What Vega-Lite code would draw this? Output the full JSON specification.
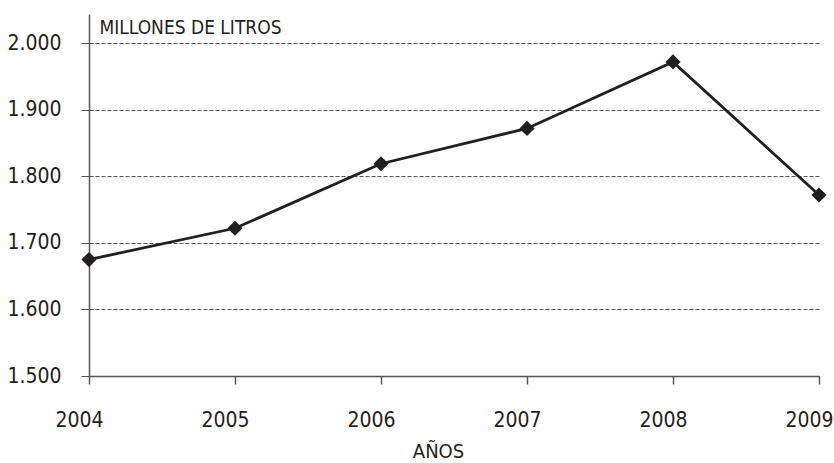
{
  "$schema": "https://vega.github.io/schema/vega-lite/v6.json",
  "width": 730,
  "height": 362,
  "autosize": {"type": "none"},
  "padding": {"left": 89, "top": 14, "right": 15, "bottom": 87},
  "background": "white",
  "config": {
    "view": {"stroke": null},
    "font": "DejaVu Sans Condensed, sans-serif"
  },
  "data": {
    "values": [
      {"year": 2004, "value": 1675},
      {"year": 2005, "value": 1722},
      {"year": 2006, "value": 1819},
      {"year": 2007, "value": 1872},
      {"year": 2008, "value": 1972},
      {"year": 2009, "value": 1772}
    ]
  },
  "encoding": {
    "x": {
      "field": "year",
      "type": "quantitative",
      "scale": {"domain": [2004, 2009], "nice": false, "zero": false},
      "axis": {
        "values": [2004, 2005, 2006, 2007, 2008, 2009],
        "format": "d",
        "title": "AÑOS",
        "grid": false,
        "domainColor": "#555555",
        "domainWidth": 1.5,
        "tickColor": "#555555",
        "tickWidth": 1.5,
        "tickSize": 8,
        "labelFont": "DejaVu Sans Condensed, sans-serif",
        "labelFontSize": 21,
        "labelColor": "#231f20",
        "labelPadding": 25,
        "labelOffset": -10,
        "labelFlush": false,
        "labelOverlap": false,
        "titleFont": "DejaVu Sans Condensed, sans-serif",
        "titleFontSize": 20,
        "titleFontWeight": "normal",
        "titleColor": "#231f20",
        "titleX": 349,
        "titleY": 75,
        "titleBaseline": "middle",
        "titleAlign": "center"
      }
    },
    "y": {
      "field": "value",
      "type": "quantitative",
      "scale": {"domain": [1500, 2044], "nice": false, "zero": false},
      "axis": {
        "values": [1500, 1600, 1700, 1800, 1900, 2000],
        "labelExpr": "replace(format(datum.value, ','), ',', '.')",
        "grid": true,
        "gridDash": [4, 2],
        "gridColor": "#555555",
        "gridWidth": 1,
        "domainColor": "#555555",
        "domainWidth": 1.5,
        "tickColor": "#555555",
        "tickWidth": 1,
        "tickSize": 8,
        "labelFont": "DejaVu Sans Condensed, sans-serif",
        "labelFontSize": 21,
        "labelColor": "#231f20",
        "labelPadding": 20,
        "title": "MILLONES DE LITROS",
        "titleAngle": 0,
        "titleAlign": "left",
        "titleBaseline": "middle",
        "titleX": 10,
        "titleY": 13,
        "titleFont": "DejaVu Sans Condensed, sans-serif",
        "titleFontSize": 19,
        "titleFontWeight": "normal",
        "titleColor": "#231f20"
      }
    }
  },
  "layer": [
    {"mark": {"type": "line", "color": "#231f20", "strokeWidth": 2.8}},
    {"mark": {"type": "point", "shape": "diamond", "filled": true, "color": "#231f20", "size": 230, "opacity": 1}}
  ]
}
